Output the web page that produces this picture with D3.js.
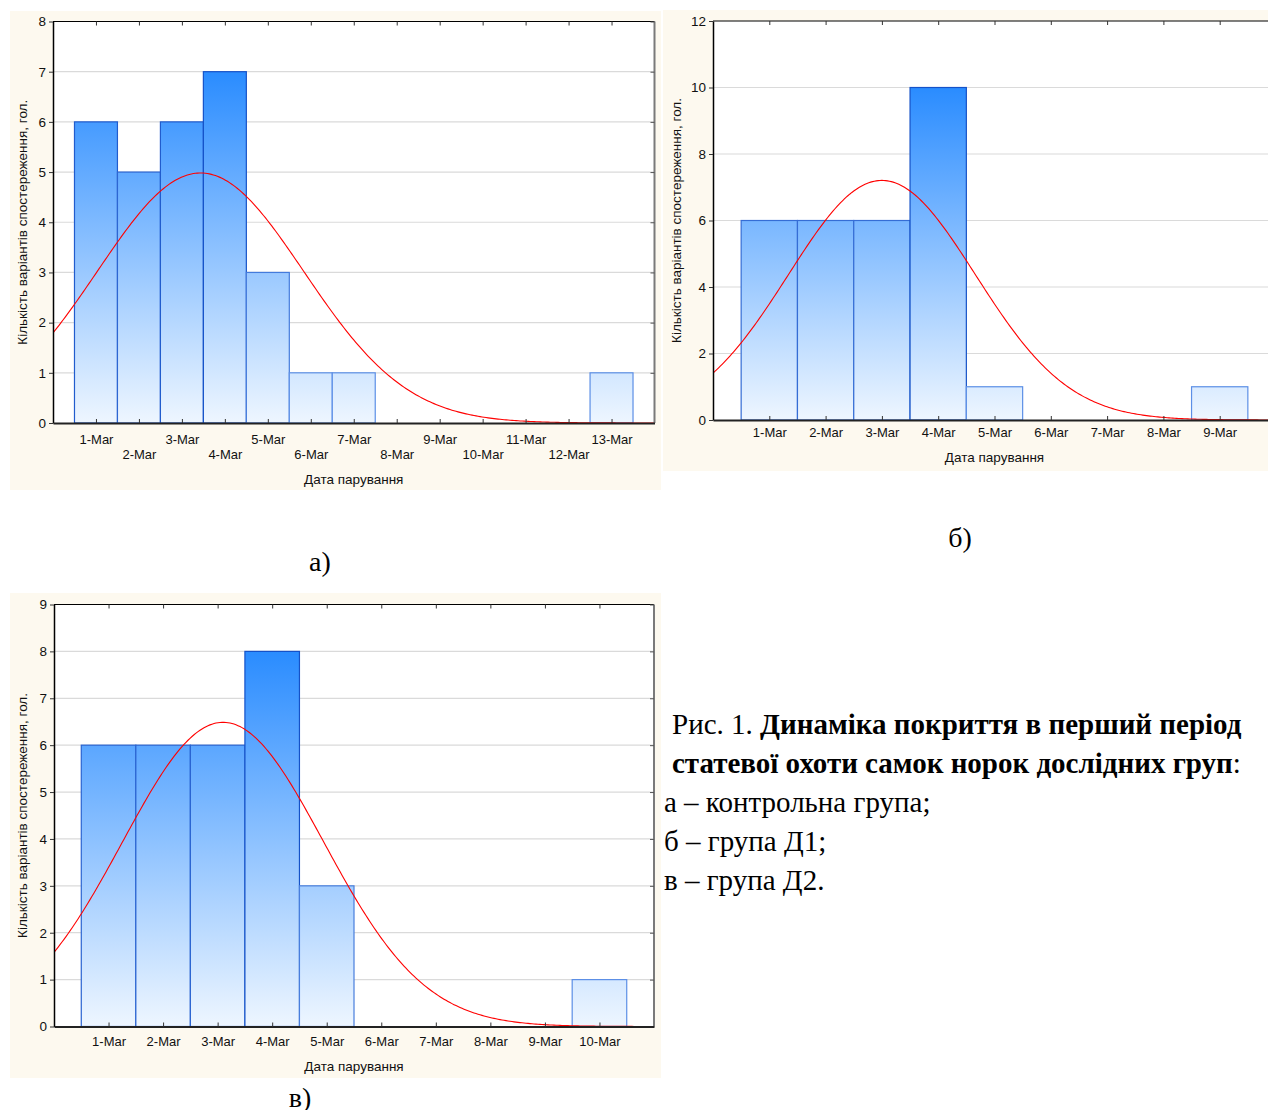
<!DOCTYPE html>
<meta charset="utf-8">
<style type="text/css">
    body{
      margin: 0;
      background: #fff;
    }
    svg{
      display: block;
    }
    .axis text{
      font-family: "Liberation Sans", Arial, sans-serif;
      font-size: 13px;
      fill: #111;
    }
    .caption{
      font-family: "Liberation Serif", "Times New Roman", serif;
      font-size: 29px;
      fill: #000;
    }
</style>
<body>
<script src="https://cdn.jsdelivr.net/npm/d3@7/dist/d3.min.js"></script>
<script>

// а) control group
var datesA  = ["1-Mar","2-Mar","3-Mar","4-Mar","5-Mar","6-Mar","7-Mar","8-Mar","9-Mar","10-Mar","11-Mar","12-Mar","13-Mar"];
var countsA = [6, 5, 6, 7, 3, 1, 1, 0, 0, 0, 0, 0, 1];

// б) group Д1
var datesB  = ["1-Mar","2-Mar","3-Mar","4-Mar","5-Mar","6-Mar","7-Mar","8-Mar","9-Mar"];
var countsB = [6, 6, 6, 10, 1, 0, 0, 0, 1];

// в) group Д2
var datesC  = ["1-Mar","2-Mar","3-Mar","4-Mar","5-Mar","6-Mar","7-Mar","8-Mar","9-Mar","10-Mar"];
var countsC = [6, 6, 6, 8, 3, 0, 0, 0, 0, 1];

var yTitle = "Кількість варіантів спостереження, гол.";
var xTitle = "Дата парування";

var captionLines = [
  [{t: "Рис. 1. ", b: false}, {t: "Динаміка покриття в перший період", b: true}],
  [{t: "статевої охоти самок норок дослідних груп", b: true}, {t: ":", b: false}],
  [{t: "а – контрольна група;", b: false}],
  [{t: "б – група Д1;", b: false}],
  [{t: "в – група Д2.", b: false}]
];

var svg = d3.select("body")
  .append("svg")
  .attr("width", 1268)
  .attr("height", 1110);

var defs = svg.append("defs");

function drawChart(id, dates, counts, o) {

  var g = svg.append("g");

  //cream panel behind the chart
  g.append("rect")
    .attr("x", o.panel[0]).attr("y", o.panel[1])
    .attr("width", o.panel[2]).attr("height", o.panel[3])
    .attr("fill", "#fdf9ef");

  var p = o.plot;

  g.append("rect")
    .attr("x", p.l).attr("y", p.t)
    .attr("width", p.r - p.l).attr("height", p.b - p.t)
    .attr("fill", "#fff");

  var x = d3.scaleLinear().domain([0, dates.length + 1]).range([p.l, p.r]);
  var y = d3.scaleLinear().domain([0, o.yMax]).range([p.b, p.t]);
  var yTicks = d3.range(0, o.yMax + 0.001, o.yStep);
  var xTicks = d3.range(1, dates.length + 1);

  //horizontal grid
  g.selectAll(".grid")
    .data(yTicks.filter(function(d){ return d > 0 && d < o.yMax; }))
    .enter().append("line")
    .attr("x1", p.l).attr("x2", p.r)
    .attr("y1", function(d){ return y(d); })
    .attr("y2", function(d){ return y(d); })
    .attr("stroke", "#dadada")
    .attr("stroke-width", 1.2);

  //bar gradient in plot space, light at 0, deep blue at the tallest bar
  var maxC = d3.max(counts);
  var grad = defs.append("linearGradient")
    .attr("id", "grad" + id)
    .attr("gradientUnits", "userSpaceOnUse")
    .attr("x1", 0).attr("x2", 0)
    .attr("y1", y(0)).attr("y2", y(maxC));
  grad.append("stop").attr("offset", 0).attr("stop-color", "#eef6ff");
  grad.append("stop").attr("offset", 1).attr("stop-color", "#2a8cff");

  var strokeCol = d3.scaleLinear().domain([1, maxC]).range(["#5c8fe6", "#1552c8"]);

  g.selectAll(".bar")
    .data(counts.map(function(c, i){ return {v: c, k: i + 1}; }).filter(function(d){ return d.v > 0; }))
    .enter().append("rect")
    .attr("x", function(d){ return x(d.k - 0.5); })
    .attr("width", function(d){ return x(d.k + 0.5) - x(d.k - 0.5); })
    .attr("y", function(d){ return y(d.v); })
    .attr("height", function(d){ return y(0) - y(d.v); })
    .attr("fill", "url(#grad" + id + ")")
    .attr("stroke", function(d){ return strokeCol(d.v); })
    .attr("stroke-width", 1.2);

  //fitted normal curve: mean and sample sd of the observed dates
  var n = d3.sum(counts);
  var mean = d3.sum(counts, function(c, i){ return c * (i + 1); }) / n;
  var ss = d3.sum(counts, function(c, i){ return c * Math.pow(i + 1 - mean, 2); });
  var sd = Math.sqrt(ss / (n - 1));
  var curve = d3.range(0, 301).map(function(j){
    var xv = x.domain()[1] * j / 300;
    return [xv, n / (sd * Math.sqrt(2 * Math.PI)) * Math.exp(-0.5 * Math.pow((xv - mean) / sd, 2))];
  });

  defs.append("clipPath").attr("id", "clip" + id)
    .append("rect")
    .attr("x", p.l).attr("y", p.t)
    .attr("width", p.r - p.l).attr("height", p.b - p.t);

  g.append("path")
    .datum(curve)
    .attr("clip-path", "url(#clip" + id + ")")
    .attr("fill", "none")
    .attr("stroke", "#ff0000")
    .attr("stroke-width", 1.1)
    .attr("d", d3.line()
      .x(function(d){ return x(d[0]); })
      .y(function(d){ return y(d[1]); }));

  //frame: top black, right grey
  g.append("line")
    .attr("x1", p.l).attr("x2", p.r).attr("y1", p.t).attr("y2", p.t)
    .attr("stroke", "#000").attr("stroke-width", 1.2);
  g.append("line")
    .attr("x1", p.r).attr("x2", p.r).attr("y1", p.t).attr("y2", p.b)
    .attr("stroke", "#7a7a7a").attr("stroke-width", 2);

  //top and right inner ticks
  g.append("g")
    .attr("transform", "translate(0," + p.t + ")")
    .call(d3.axisTop(x).tickValues(xTicks).tickSize(-4).tickSizeOuter(0).tickFormat(""))
    .call(function(s){ s.select(".domain").remove(); s.selectAll("line").attr("stroke", "#333"); });
  g.append("g")
    .attr("transform", "translate(" + p.r + ",0)")
    .call(d3.axisRight(y).tickValues(yTicks).tickSize(-4).tickSizeOuter(0).tickFormat(""))
    .call(function(s){ s.select(".domain").remove(); s.selectAll("line").attr("stroke", "#555"); });

  //y axis
  g.append("g")
    .attr("class", "axis")
    .attr("transform", "translate(" + p.l + ",0)")
    .call(d3.axisLeft(y).tickValues(yTicks).tickSize(4).tickPadding(3).tickSizeOuter(0))
    .call(function(s){
      s.select(".domain").attr("stroke", "#000").attr("stroke-width", 1.5);
      s.selectAll("line").attr("stroke", "#333");
      s.selectAll("text").style("font-size", "13.5px");
    });

  //x axis, labels in one or two rows
  g.append("g")
    .attr("class", "axis")
    .attr("transform", "translate(0," + p.b + ")")
    .call(d3.axisBottom(x).tickValues(xTicks).tickSize(-4).tickPadding(0).tickSizeOuter(0)
      .tickFormat(function(d){ return dates[d - 1]; }))
    .call(function(s){
      s.select(".domain").attr("stroke", "#222").attr("stroke-width", 2);
      s.selectAll("line").attr("stroke", "#333");
      s.selectAll("text")
        .attr("dy", null)
        .attr("y", function(d, i){ return (o.stagger && i % 2 ? o.labelY + 15 : o.labelY) - p.b; });
    });

  g.append("text")
    .attr("x", (p.l + p.r) / 2)
    .attr("y", o.titleY)
    .attr("text-anchor", "middle")
    .style("font-family", "'Liberation Sans', Arial, sans-serif")
    .style("font-size", "13.5px")
    .attr("fill", "#111")
    .text(xTitle);

  g.append("text")
    .attr("transform", "translate(" + o.yTitleX + "," + (p.t + p.b) / 2 + ") rotate(-90)")
    .attr("text-anchor", "middle")
    .style("font-family", "'Liberation Sans', Arial, sans-serif")
    .style("font-size", "13.5px")
    .attr("fill", "#111")
    .text(yTitle);

  svg.append("text")
    .attr("class", "caption")
    .attr("x", o.tag[0]).attr("y", o.tag[1])
    .attr("text-anchor", "middle")
    .style("font-size", "28px")
    .text(o.tag[2]);
}

drawChart("a", datesA, countsA, {
  panel: [10, 11, 651, 479],
  plot: {l: 53, r: 654.5, t: 21.5, b: 423},
  yMax: 8, yStep: 1,
  stagger: true, labelY: 444, titleY: 484,
  yTitleX: 27,
  tag: [320, 571, "а)"]
});

drawChart("b", datesB, countsB, {
  panel: [663, 10, 605, 461],
  plot: {l: 713, r: 1276, t: 21, b: 420},
  yMax: 12, yStep: 2,
  stagger: false, labelY: 437, titleY: 462,
  yTitleX: 681,
  tag: [960, 547, "б)"]
});

drawChart("c", datesC, countsC, {
  panel: [10, 593, 651, 485],
  plot: {l: 54, r: 654, t: 604.5, b: 1026.5},
  yMax: 9, yStep: 1,
  stagger: false, labelY: 1046, titleY: 1071,
  yTitleX: 27,
  tag: [300, 1107, "в)"]
});

//figure caption
var cap = svg.append("g");
captionLines.forEach(function(line, i){
  var t = cap.append("text")
    .attr("class", "caption")
    .attr("x", i < 2 ? 672 : 664)
    .attr("y", 734 + i * 39);
  line.forEach(function(part){
    t.append("tspan")
      .style("font-weight", part.b ? "bold" : "normal")
      .text(part.t);
  });
});

</script>
</body>
